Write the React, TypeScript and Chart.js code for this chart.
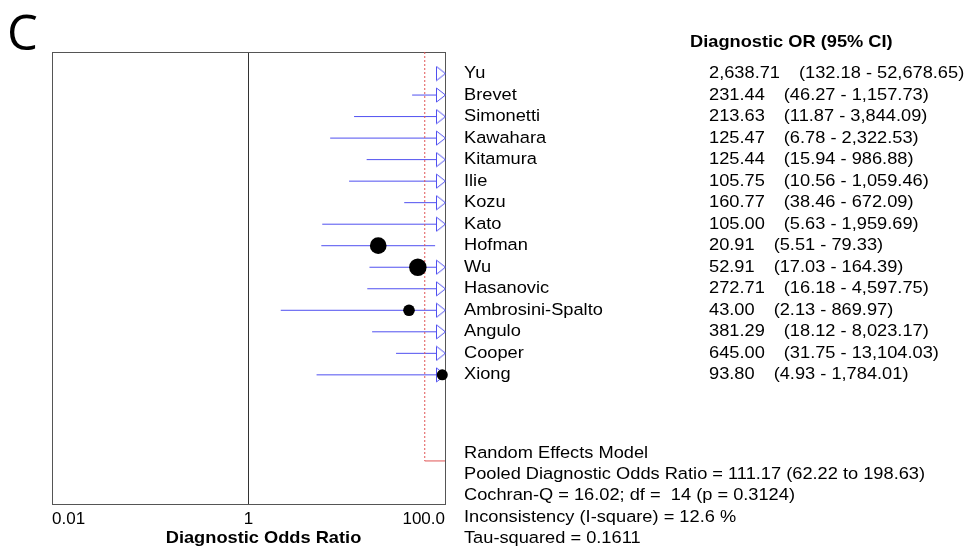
import React, { useEffect, useRef } from "react";
import { Chart, registerables } from "chart.js";

Chart.register(...registerables);

// ---------------- data ----------------
const studies = [
  "Yu", "Brevet", "Simonetti", "Kawahara", "Kitamura", "Ilie", "Kozu", "Kato",
  "Hofman", "Wu", "Hasanovic", "Ambrosini-Spalto", "Angulo", "Cooper", "Xiong",
];
const oddsRatios = [
  2638.71, 231.44, 213.63, 125.47, 125.44, 105.75, 160.77, 105.0,
  20.91, 52.91, 272.71, 43.0, 381.29, 645.0, 93.8,
];
const ciLower = [
  132.18, 46.27, 11.87, 6.78, 15.94, 10.56, 38.46, 5.63,
  5.51, 17.03, 16.18, 2.13, 18.12, 31.75, 4.93,
];
const ciUpper = [
  52678.65, 1157.73, 3844.09, 2322.53, 986.88, 1059.46, 672.09, 1959.69,
  79.33, 164.39, 4597.75, 869.97, 8023.17, 13104.03, 1784.01,
];
// relative study weights (%), random-effects model (estimated)
const weights = [
  4.6, 8.9, 5.2, 4.4, 7.0, 5.6, 10.5, 4.3,
  13.5, 14.8, 4.4, 6.6, 4.5, 4.6, 5.9,
];
const pooledOR = 111.17;
const pooledLower = 62.22;
const pooledUpper = 198.63;
const pooledRow = 18;
const summaryLines = [
  "Random Effects Model",
  "Pooled Diagnostic Odds Ratio = 111.17 (62.22 to 198.63)",
  "Cochran-Q = 16.02; df =  14 (p = 0.3124)",
  "Inconsistency (I-square) = 12.6 %",
  "Tau-squared = 0.1611",
];
const xTickValues = [0.01, 1, 100];
const xTickLabels = ["0.01", "1", "100.0"];
const xMin = 0.01;
const xMax = 100;
const headerText = "Diagnostic OR (95% CI)";
const axisTitle = "Diagnostic Odds Ratio";
const panelLabel = "C";

// ---------------- styling ----------------
const BLUE = "#5050f0";
const RED = "#e05555";
const FONT = '"Liberation Sans", Arial, sans-serif';
const SX = 1.12;
const FS = 16.3;

const fmt = (v: number) =>
  v.toLocaleString("en-US", { minimumFractionDigits: 2, maximumFractionDigits: 2 });
const clampX = (v: number) => Math.min(xMax, Math.max(xMin, v));

function makeArrow(): HTMLCanvasElement {
  const c = document.createElement("canvas");
  c.width = 20;
  c.height = 16;
  const g = c.getContext("2d")!;
  g.fillStyle = "#ffffff";
  g.strokeStyle = BLUE;
  g.lineWidth = 1;
  g.beginPath();
  g.moveTo(1.5, 1);
  g.lineTo(10.5, 8);
  g.lineTo(1.5, 15);
  g.closePath();
  g.fill();
  g.stroke();
  return c;
}

function drawText(
  ctx: CanvasRenderingContext2D,
  text: string,
  x: number,
  y: number,
  bold = false,
  align: CanvasTextAlign = "left"
) {
  ctx.save();
  ctx.font = `${bold ? "bold " : ""}${FS}px ${FONT}`;
  ctx.fillStyle = "#000";
  ctx.textBaseline = "middle";
  ctx.textAlign = align;
  ctx.translate(x, y);
  ctx.scale(SX, 1);
  ctx.fillText(text, 0, 0);
  ctx.restore();
}

function textWidth(ctx: CanvasRenderingContext2D, text: string, bold = false) {
  ctx.save();
  ctx.font = `${bold ? "bold " : ""}${FS}px ${FONT}`;
  const w = ctx.measureText(text).width * SX;
  ctx.restore();
  return w;
}

const forestPlugin = {
  id: "forestText",
  beforeDatasetsDraw(chart: any) {
    const { ctx, chartArea } = chart;
    ctx.save();
    ctx.strokeStyle = "#555";
    ctx.lineWidth = 1;
    ctx.strokeRect(
      Math.round(chartArea.left) + 0.5,
      Math.round(chartArea.top) + 0.5,
      Math.round(chartArea.right - chartArea.left),
      Math.round(chartArea.bottom - chartArea.top)
    );
    ctx.restore();
  },
  afterDraw(chart: any) {
    const { ctx, chartArea } = chart;
    const ys = chart.scales.y;
    const nameX = chartArea.right + 19;
    const valX = chartArea.right + 264;

    // panel label
    ctx.save();
    ctx.font = `49px "Open Sans", ${FONT}`;
    ctx.fillStyle = "#000";
    ctx.textBaseline = "alphabetic";
    ctx.fillText(panelLabel, 7, 50);
    ctx.restore();

    // header
    drawText(ctx, headerText, valX - 19, chartArea.top - 9, true);

    studies.forEach((name, i) => {
      const y = ys.getPixelForValue(i);
      drawText(ctx, name, nameX, y);
      const v = fmt(oddsRatios[i]);
      drawText(ctx, v, valX, y);
      const w = textWidth(ctx, v);
      drawText(ctx, `(${fmt(ciLower[i])} - ${fmt(ciUpper[i])})`, valX + w + 19, y);
    });

    const base = ys.getPixelForValue(pooledRow) - 7.5;
    summaryLines.forEach((line, k) => {
      drawText(ctx, line, nameX, base + k * 21.25);
    });

    // axis title
    drawText(
      ctx,
      axisTitle,
      (chartArea.left + chartArea.right) / 2 + 15,
      chartArea.bottom + 35,
      true,
      "center"
    );
  },
};

export default function App() {
  const ref = useRef<HTMLCanvasElement | null>(null);

  useEffect(() => {
    if (!ref.current) return;
    const arrow = makeArrow();

    const ciDatasets = studies.map((_, i) => ({
      type: "scatter" as const,
      data: [
        { x: clampX(ciLower[i]), y: i },
        { x: clampX(ciUpper[i]), y: i },
      ],
      showLine: true,
      borderColor: BLUE,
      borderWidth: 1,
      pointRadius: 0,
      order: 3,
    }));

    const arrowData = studies
      .map((_, i) => ({ x: xMax, y: i, show: ciUpper[i] > xMax }))
      .filter((d) => d.show)
      .map((d) => ({ x: d.x, y: d.y }));

    const dotIdx = studies.map((_, i) => i).filter((i) => oddsRatios[i] <= xMax);
    const dotData = dotIdx.map((i) => ({ x: oddsRatios[i], y: i }));
    const dotRadius = dotIdx.map((i) => 2.27 * Math.sqrt(weights[i]));

    const chart = new Chart(ref.current, {
      type: "scatter",
      data: {
        datasets: [
          ...ciDatasets,
          {
            type: "scatter",
            data: [
              { x: pooledLower, y: -1 },
              { x: pooledLower, y: pooledRow },
            ],
            showLine: true,
            borderColor: RED,
            borderWidth: 1,
            borderDash: [2, 2],
            pointRadius: 0,
            order: 2,
          },
          {
            type: "scatter",
            data: [
              { x: pooledLower, y: pooledRow },
              { x: clampX(pooledUpper), y: pooledRow },
            ],
            showLine: true,
            borderColor: RED,
            borderWidth: 1,
            pointRadius: 0,
            order: 2,
          },
          {
            type: "scatter",
            data: arrowData,
            pointStyle: arrow,
            pointRadius: 6,
            clip: false,
            order: 1,
          },
          {
            type: "scatter",
            data: dotData,
            pointRadius: dotRadius,
            pointBackgroundColor: "#000",
            pointBorderColor: "#000",
            pointBorderWidth: 0,
            clip: false,
            order: 0,
          },
        ] as any,
      },
      options: {
        animation: false,
        responsive: false,
        devicePixelRatio: 1,
        events: [],
        layout: { padding: { left: 52, top: 52, right: 520, bottom: 0 } },
        plugins: {
          legend: { display: false },
          tooltip: { enabled: false },
        },
        scales: {
          x: {
            type: "logarithmic",
            min: xMin,
            max: xMax,
            afterBuildTicks: (scale: any) => {
              scale.ticks = xTickValues.map((v) => ({ value: v }));
            },
            afterFit: (scale: any) => {
              scale.height = 43;
            },
            ticks: {
              autoSkip: false,
              maxRotation: 0,
              align: "inner",
              padding: 5,
              color: "#000",
              font: { family: FONT, size: 17 },
              callback: (value: any) => {
                const idx = xTickValues.indexOf(Number(value));
                return idx >= 0 ? xTickLabels[idx] : "";
              },
            },
            grid: {
              drawTicks: false,
              color: (c: any) => (c.tick && c.tick.value === 1 ? "#333" : "rgba(0,0,0,0)"),
            },
            border: { display: false },
          },
          y: {
            type: "linear",
            min: -1,
            max: 20,
            reverse: true,
            display: false,
          },
        },
      } as any,
      plugins: [forestPlugin],
    });

    return () => chart.destroy();
  }, []);

  return (
    <div style={{ position: "absolute", left: 0, top: 0, width: 965, height: 547, background: "#fff" }}>
      <canvas ref={ref} width={965} height={547} style={{ display: "block" }} />
    </div>
  );
}
